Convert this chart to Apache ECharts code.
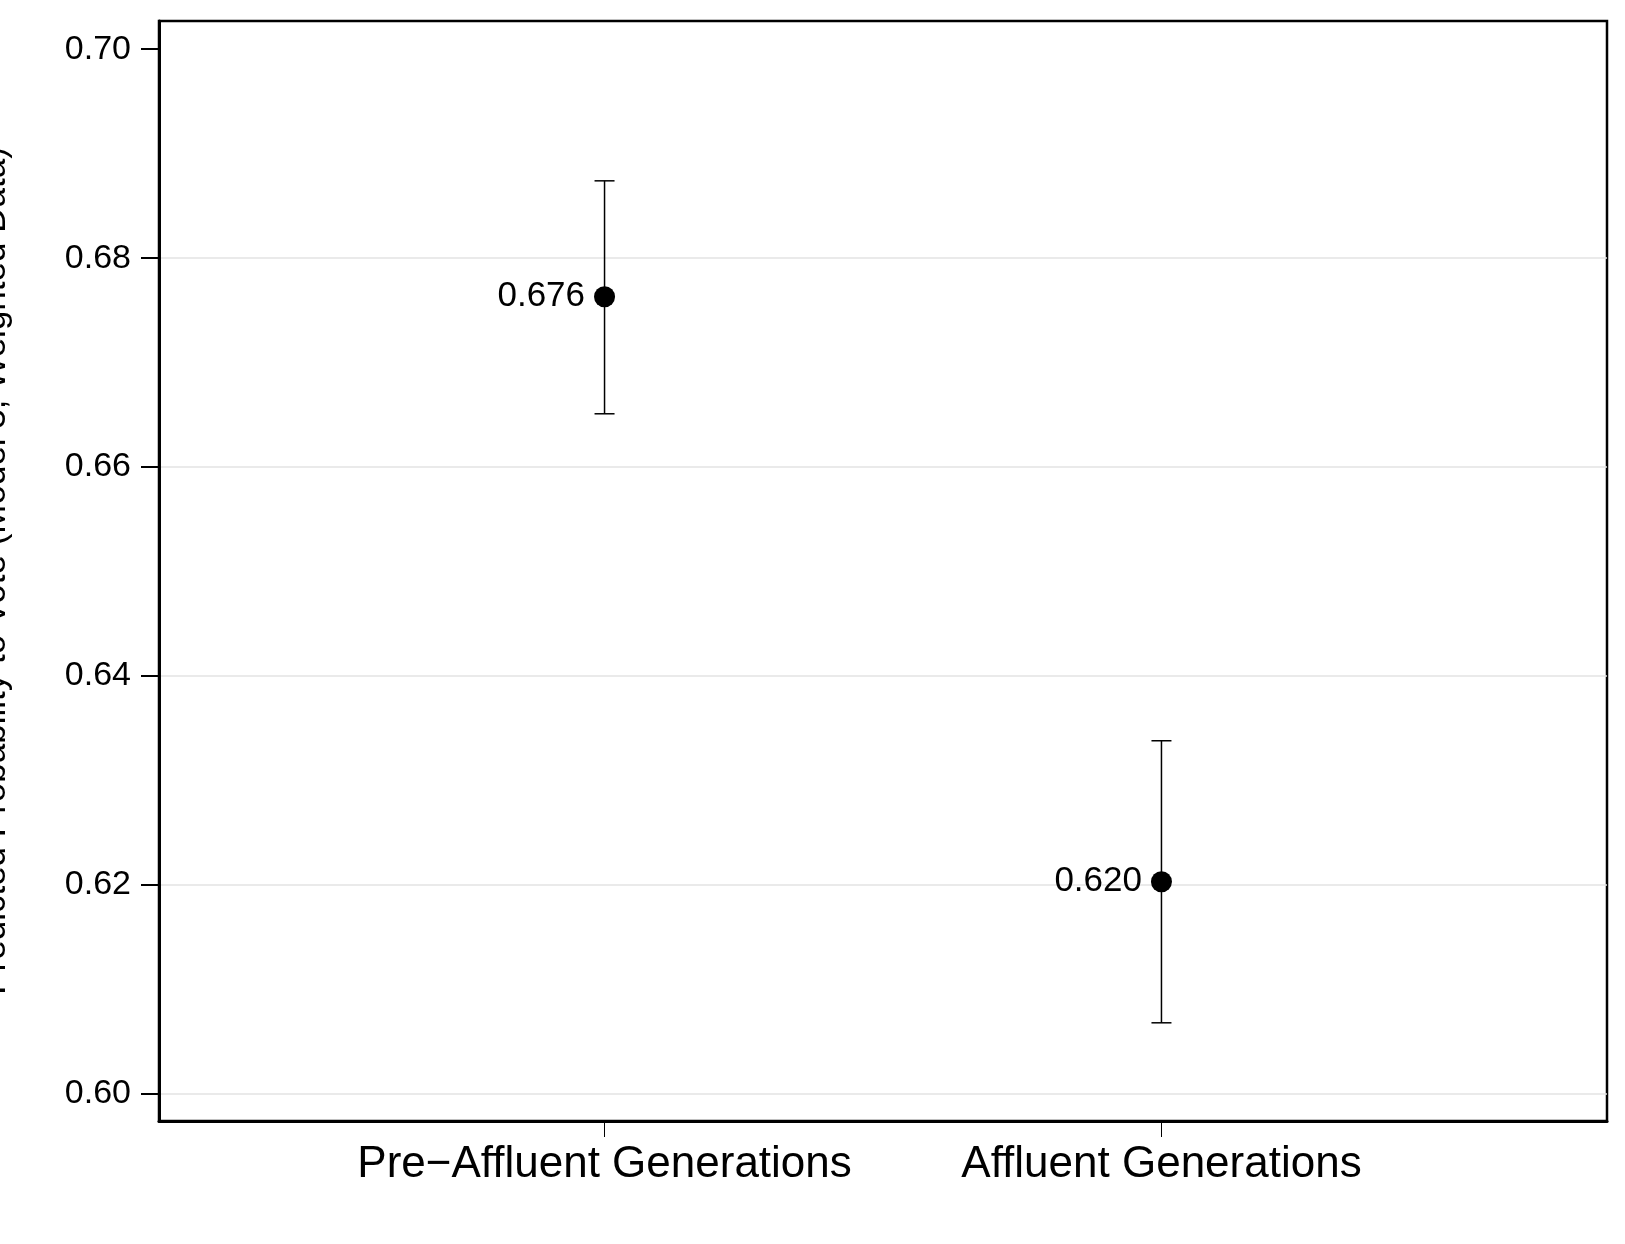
<!DOCTYPE html>
<html>
<head>
<meta charset="utf-8">
<title>Predicted Probability to Vote</title>
<script src="https://cdn.jsdelivr.net/npm/echarts@6/dist/echarts.min.js"></script>
<style>
  html, body { margin: 0; padding: 0; background: #fff; }
  #main { width: 1625px; height: 1244px; }
</style>
</head>
<body>
<div id="main"></div>
<script>
// data
var categories = ['Pre\u2212Affluent Generations', 'Affluent Generations'];
var positions = [1, 2];
var estimates = [0.6763, 0.6203];
var lowerCI = [0.6651, 0.6068];
var upperCI = [0.6874, 0.6338];
var yTicks = [0.60, 0.62, 0.64, 0.66, 0.68, 0.70];

var font = 'Liberation Sans';
var chart = echarts.init(document.getElementById('main'));

var pointData = positions.map(function (p, i) { return [p, estimates[i]]; });
var barData = positions.map(function (p, i) { return [p, lowerCI[i], upperCI[i]]; });
// no grid line drawn at the top tick
var gridColors = yTicks.map(function (t, i) { return i === yTicks.length - 1 ? 'rgba(0,0,0,0)' : '#e3e3e3'; });

chart.setOption({
  animation: false,
  grid: {
    left: 159, right: 18, top: 21, bottom: 123,
    outerBoundsMode: 'none',
    containLabel: false,
    show: true, borderColor: '#000', borderWidth: 2.5
  },
  xAxis: {
    type: 'value',
    min: 0.2,
    max: 2.8,
    axisLine: { show: true, lineStyle: { color: '#000', width: 3 } },
    axisTick: {
      show: true, inside: false, length: 16,
      customValues: positions,
      lineStyle: { color: '#000', width: 1 }
    },
    axisLabel: {
      customValues: positions,
      margin: 22,
      fontFamily: font, fontSize: 44, color: '#000',
      formatter: function (v) { return categories[Math.round(v) - 1] || ''; }
    },
    splitLine: { show: false }
  },
  yAxis: {
    type: 'value',
    min: 0.5974,
    max: 0.7027,
    name: 'Predicted Probability to Vote (Model 3, Weighted Data)',
    nameLocation: 'middle',
    nameRotate: 90,
    nameGap: 146,
    nameTextStyle: { fontFamily: font, fontSize: 35, color: '#000' },
    axisLine: { show: true, lineStyle: { color: '#000', width: 3 } },
    axisTick: {
      show: true, inside: false, length: 18,
      customValues: yTicks,
      lineStyle: { color: '#000', width: 2 }
    },
    axisLabel: {
      customValues: yTicks,
      margin: 28,
      fontFamily: font, fontSize: 34, color: '#000',
      formatter: function (v) { return v.toFixed(2); }
    },
    splitLine: { show: true, lineStyle: { color: gridColors, width: 1.5 } }
  },
  series: [
    {
      type: 'custom',
      data: barData,
      z: 2,
      renderItem: function (params, api) {
        var x = api.value(0);
        var lo = api.coord([x, api.value(1)]);
        var hi = api.coord([x, api.value(2)]);
        var half = 10;
        var style = { stroke: '#000', lineWidth: 1.5 };
        return {
          type: 'group',
          children: [
            { type: 'line', shape: { x1: lo[0], y1: lo[1], x2: hi[0], y2: hi[1] }, style: style },
            { type: 'line', shape: { x1: hi[0] - half, y1: hi[1], x2: hi[0] + half, y2: hi[1] }, style: style },
            { type: 'line', shape: { x1: lo[0] - half, y1: lo[1], x2: lo[0] + half, y2: lo[1] }, style: style }
          ]
        };
      }
    },
    {
      type: 'scatter',
      data: pointData,
      z: 3,
      symbol: 'circle',
      symbolSize: 21,
      itemStyle: { color: '#000', opacity: 1 },
      label: {
        show: true,
        position: 'left',
        distance: 9,
        fontFamily: font, fontSize: 35, color: '#000',
        formatter: function (p) { return p.value[1].toFixed(3); }
      }
    }
  ]
});
</script>
</body>
</html>
